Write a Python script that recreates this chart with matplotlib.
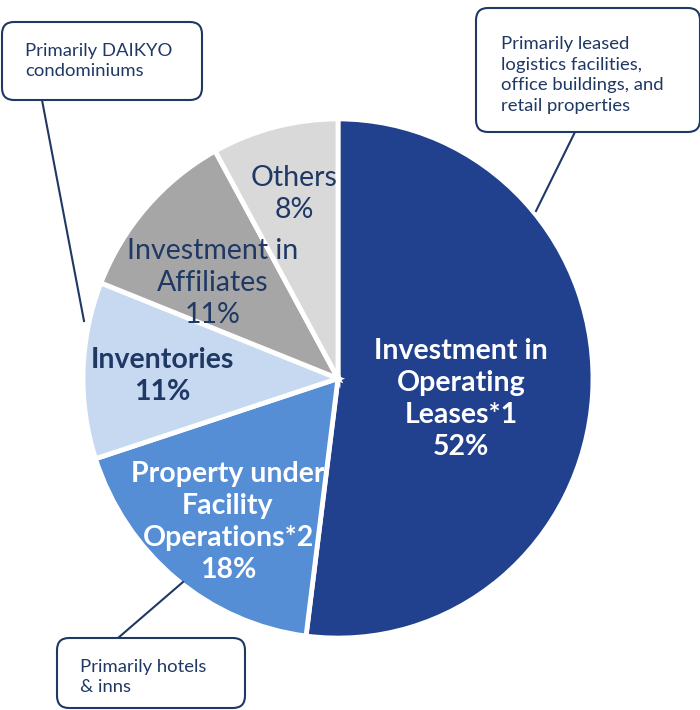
import matplotlib
matplotlib.use("Agg")
import matplotlib.pyplot as plt
from matplotlib.patches import FancyBboxPatch

plt.rcParams['font.family'] = ['Lato', 'DejaVu Sans']

categories = ["Investment in Operating Leases*1", "Property under Facility Operations*2",
              "Inventories", "Investment in Affiliates", "Others"]
values = [52, 18, 11, 11, 8]
colors = ["#21418F", "#558ED5", "#C6D9F0", "#A6A6A6", "#D9D9D9"]
navy = "#1F3864"

W, H = 700, 710
K = 1.018  # slight vertical stretch of the reference pie
fig = plt.figure(figsize=(7, 7.1), dpi=100)
ax = fig.add_axes([0, 0, 1, 1])

def Y(y):
    return (H - y) / K

cx, cy, r = 338, Y(378.5), 255
ax.pie(values, colors=colors, startangle=90, counterclock=False,
       center=(cx, cy), radius=r, frame=True,
       wedgeprops=dict(edgecolor='white', linewidth=3.5))
ax.set_xlim(0, W)
ax.set_ylim(0, H / K)
ax.set_aspect('auto')
ax.axis('off')

fs = 20.5
ls = 1.28
# slice labels
ax.text(461, Y(399), "Investment in\nOperating\nLeases*1\n52%", color='white', fontweight='bold',
        fontsize=fs, ha='center', va='center', linespacing=ls)
ax.text(228, Y(522), "Property under\nFacility\nOperations*2\n18%", color='white', fontweight='bold',
        fontsize=fs, ha='center', va='center', linespacing=ls)
ax.text(162, Y(376), "Inventories\n11%", color=navy, fontweight='bold',
        fontsize=fs, ha='center', va='center', linespacing=ls)
ax.text(213, Y(283), "Investment in\nAffiliates\n11%", color=navy,
        fontsize=fs, ha='center', va='center', linespacing=ls)
ax.text(294, Y(194), "Others\n8%", color=navy,
        fontsize=fs, ha='center', va='center', linespacing=ls)

# callout boxes
def box(x0, y0, x1, y1):
    p = FancyBboxPatch((x0, Y(y1)), x1 - x0, Y(y0) - Y(y1),
                       boxstyle="round,pad=0,rounding_size=12",
                       facecolor='white', edgecolor=navy, linewidth=1.5, zorder=5)
    ax.add_patch(p)

bfs = 13.3
box(2, 22, 202, 100)
ax.text(25, Y(61), "Primarily DAIKYO\ncondominiums", color=navy, fontsize=bfs,
        ha='left', va='center', linespacing=1.35, zorder=6)
ax.plot([42, 84], [Y(100), Y(321)], color=navy, lw=1.5, zorder=4)

box(476, 8, 700, 132)
ax.text(501, Y(75), "Primarily leased\nlogistics facilities,\noffice buildings, and\nretail properties",
        color=navy, fontsize=bfs, ha='left', va='center', linespacing=1.35, zorder=6)
ax.plot([575, 536], [Y(132), Y(211)], color=navy, lw=1.5, zorder=4)

box(57, 638, 245, 708)
ax.text(80, Y(677), "Primarily hotels\n& inns", color=navy, fontsize=bfs,
        ha='left', va='center', linespacing=1.35, zorder=6)
ax.plot([118, 183], [Y(638), Y(582)], color=navy, lw=1.5, zorder=4)

fig.savefig("out.png", dpi=100)
